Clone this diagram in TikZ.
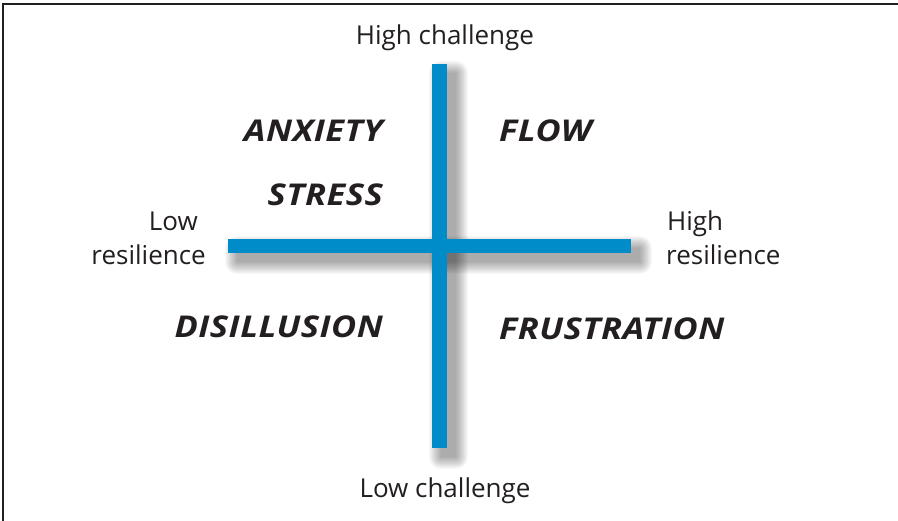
\documentclass[tikz,border=0pt]{standalone}
\usepackage{fontspec}
\setmainfont{Open Sans}
\newfontfamily\quadfont[FakeStretch=1.15, LetterSpace=1.5]{Open Sans}
\definecolor{barblue}{RGB}{0,140,200}
\definecolor{ink}{RGB}{35,31,32}
\begin{document}
\begin{tikzpicture}[x=1pt,y=-1pt,
  lab/.style={font=\fontsize{26}{30}\selectfont, text=ink, inner sep=0pt},
  quad/.style={font=\quadfont\fontsize{30}{34}\selectfont\bfseries\itshape, text=ink, inner sep=0pt},
  bar/.style={fill=barblue}]
\useasboundingbox (0,0) rectangle (898,521);
\fill[white] (0,0) rectangle (898,521);
\draw[line width=2pt, ink] (3,521) -- (3,4) -- (898,4);
% shadows
\foreach \e in {0,...,12} {
  \fill[black, opacity=0.028, rounded corners=\e pt] (432+9-\e, 64+9-\e) rectangle (447+9+\e, 448+9+\e);
  \fill[black, opacity=0.028, rounded corners=\e pt] (228+9-\e, 239+9-\e) rectangle (631+9+\e, 253+9+\e);
}
% bars
\fill[bar] (432,64) rectangle (447,448);
\fill[bar] (228,239) rectangle (631,253);
% axis labels
\node[lab, anchor=base] (hc) at (445,45) {High challenge};
\node[lab, anchor=base] (lc) at (445,498) {Low challenge};
\node[lab, anchor=base east] (lr1) at (198,231) {Low};
\node[lab, anchor=base east] (lr2) at (206,265) {resilience};
\node[lab, anchor=base west] (hr1) at (667,231) {High};
\node[lab, anchor=base west] (hr2) at (666,265) {resilience};
% quadrant labels
\node[quad, anchor=base east] (anx) at (383,142) {ANXIETY};
\node[quad, anchor=base east] (str) at (383,206) {STRESS};
\node[quad, anchor=base east] (dis) at (383,338) {DISILLUSION};
\node[quad, anchor=base west] (flow) at (499,142) {FLOW};
\node[quad, anchor=base west] (fru) at (499,340) {FRUSTRATION};
\end{tikzpicture}
\end{document}
